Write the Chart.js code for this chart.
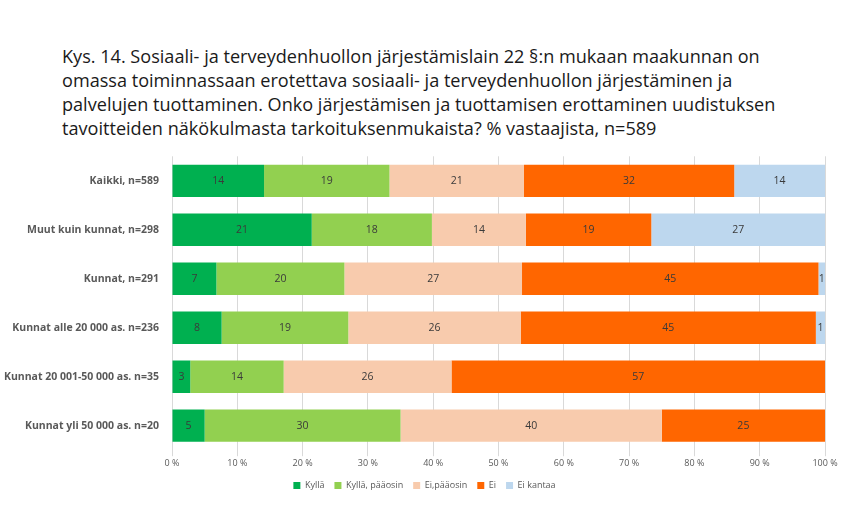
<!DOCTYPE html>
<html>
<head>
<meta charset="utf-8">
<script src="https://cdn.jsdelivr.net/npm/chart.js@4/dist/chart.umd.min.js"></script>
<style>
  html, body { margin: 0; padding: 0; background: #fff; }
  body { width: 846px; height: 508px; position: relative; overflow: hidden; }
  #title {
    position: absolute; left: 62px; top: 44px;
    font-family: 'Open Sans', sans-serif;
    font-size: 18.1px; line-height: 24px; color: #1a1a1a; white-space: nowrap;
  }
  #wrap { position: absolute; left: 0; top: 145px; width: 846px; height: 363px; }
</style>
</head>
<body>
<div id="title">Kys. 14. Sosiaali- ja terveydenhuollon järjestämislain 22 §:n mukaan maakunnan on<br>omassa toiminnassaan erotettava sosiaali- ja terveydenhuollon järjestäminen ja<br>palvelujen tuottaminen. Onko järjestämisen ja tuottamisen erottaminen uudistuksen<br>tavoitteiden näkökulmasta tarkoituksenmukaista? % vastaajista, n=589</div>
<div id="wrap"><canvas id="chartCanvas"></canvas></div>
<script>
const categories = [
  'Kaikki, n=589',
  'Muut kuin kunnat, n=298',
  'Kunnat, n=291',
  'Kunnat alle 20 000 as. n=236',
  'Kunnat 20 001-50 000 as. n=35',
  'Kunnat yli 50 000 as. n=20'
];
const seriesNames = ['Kyllä', 'Kyllä, pääosin', 'Ei,pääosin', 'Ei', 'Ei kantaa'];
const kylla        = [14.1, 21.4,  6.8,  7.6,  2.8,  5];
const kyllaPaaosin = [19.2, 18.4, 19.6, 19.4, 14.3, 30];
const eiPaaosin    = [20.6, 14.4, 27.2, 26.4, 25.7, 40];
const ei           = [32.2, 19.2, 45.4, 45.2, 57.2, 25];
const eiKantaa     = [13.9, 26.6,  1.0,  1.4,  0,    0];
const xTicks = [0, 10, 20, 30, 40, 50, 60, 70, 80, 90, 100];

const colors = ['#00B050', '#92D050', '#F8CBAD', '#FF6600', '#BDD7EE'];
const FONT = "'Open Sans', sans-serif";

// value labels in the middle of each segment
const segmentLabels = {
  id: 'segmentLabels',
  afterDatasetsDraw(chart) {
    const ctx = chart.ctx;
    ctx.save();
    ctx.font = '10.5px ' + FONT;
    ctx.fillStyle = '#3a3a3a';
    ctx.textAlign = 'center';
    ctx.textBaseline = 'middle';
    chart.data.datasets.forEach((ds, i) => {
      chart.getDatasetMeta(i).data.forEach((bar, j) => {
        const v = ds.data[j];
        if (!v) return;
        ctx.fillText(String(Math.round(v)), (bar.x + bar.base) / 2, bar.y);
      });
    });
    ctx.restore();
  }
};

// centre the legend on the whole canvas, not on the padded box
const legendShift = {
  id: 'legendShift',
  afterLayout(chart) {
    chart.legend.left += 12;
    chart.legend.right += 12;
  }
};

const series = [kylla, kyllaPaaosin, eiPaaosin, ei, eiKantaa];

new Chart(document.getElementById('chartCanvas'), {
  type: 'bar',
  data: {
    labels: categories,
    datasets: series.map((d, i) => ({
      label: seriesNames[i],
      data: d,
      backgroundColor: colors[i],
      borderWidth: 0,
      barPercentage: 0.66,
      categoryPercentage: 1
    }))
  },
  options: {
    indexAxis: 'y',
    responsive: true,
    maintainAspectRatio: false,
    animation: false,
    layout: { padding: { top: 8, right: 21, bottom: 8, left: 0 } },
    plugins: {
      legend: {
        position: 'bottom',
        labels: {
          boxWidth: 7, boxHeight: 7, padding: 10,
          color: '#595959',
          font: { family: FONT, size: 9 }
        }
      },
      tooltip: { enabled: false }
    },
    scales: {
      x: {
        stacked: true,
        min: 0, max: 100,
        afterBuildTicks: s => { s.ticks = xTicks.map(v => ({ value: v })); },
        grid: { color: '#D9D9D9', tickLength: 6 },
        border: { display: false },
        ticks: {
          padding: 2,
          color: '#595959',
          font: { family: FONT, size: 9 },
          callback: v => v + ' %'
        }
      },
      y: {
        stacked: true,
        afterFit: s => { s.width = 172; },
        grid: { display: false },
        border: { display: false },
        ticks: {
          padding: 5,
          color: '#595959',
          font: { family: FONT, size: 10.5, weight: 'bold' }
        }
      }
    }
  },
  plugins: [segmentLabels, legendShift]
});
</script>
</body>
</html>
